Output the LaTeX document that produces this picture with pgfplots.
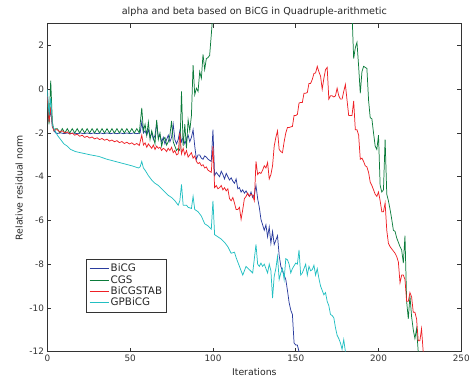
\documentclass[border=0pt]{standalone}
\usepackage{pgfplots}
\pgfplotsset{compat=1.18}
\usepackage{fontspec}
\setmainfont{DejaVu Sans}
\definecolor{cbicg}{HTML}{2A3C9E}
\definecolor{ccgs}{HTML}{0B7B3A}
\definecolor{cstab}{HTML}{EE2025}
\definecolor{cgp}{HTML}{22BFC2}
\begin{document}
\begin{tikzpicture}
\begin{axis}[
  scale only axis, width=419bp, height=332bp,
  xmin=0, xmax=250, ymin=-12, ymax=3,
  xtick={0,50,100,150,200,250},
  ytick={-12,-10,-8,-6,-4,-2,0,2},
  tick align=inside, major tick length=4bp,
  /pgf/number format/assume math mode=true,
  tick label style={font=\fontsize{9}{10}\selectfont, text=black!80},
  label style={font=\fontsize{9.5}{10.5}\selectfont, text=black!85},
  title style={font=\fontsize{9.8}{10}\selectfont, text=black!85, yshift=-2bp},
  title={alpha and beta based on BiCG in Quadruple-arithmetic},
  xlabel={Iterations}, ylabel={Relative residual norm},
  axis line style={black!80, line width=0.9pt},
  every tick/.style={black!80, line width=0.6pt},
  legend style={at={(0.093,0.283)}, anchor=north west, draw=black!80, line width=0.9pt,
    font=\fontsize{10.5}{11}\selectfont, text=black!85, row sep=-1.5pt, inner sep=3pt,
    nodes={inner sep=1.8pt}},
  legend cell align=left,
  legend image code/.code={\draw[#1, line width=0.9pt] (0bp,0bp) -- (19bp,0bp);},
  clip=true,
]
% BiCG
\addplot[cbicg, line width=0.75pt] coordinates {
(0,-0.3)(1,-1.4)(2,-1.0)(3,-1.7)(4,-1.9)(5,-2.0)(6,-2.02)(8,-1.99)(10,-2.03)(12,-2.0)(14,-2.03)(16,-2.0)(18,-2.03)(20,-2.0)(22,-2.03)(24,-2.0)(26,-2.03)(28,-2.0)(30,-2.03)(32,-2.0)(34,-2.03)(36,-2.0)(38,-2.03)(40,-2.0)(42,-2.03)(44,-2.0)(46,-2.03)(48,-2.0)(50,-2.03)(52,-2.0)(54,-2.03)(56,-2.0)
(57,-1.5)(58,-2.0)(59,-1.9)(60,-2.1)(61,-1.85)(62,-2.2)(63,-2.0)(64,-2.3)(65,-2.1)(66,-1.55)(67,-2.2)(68,-2.1)(69,-2.4)(70,-2.2)(71,-2.5)(72,-2.3)(73,-2.1)(74,-2.4)(75,-2.2)(76,-1.6)(77,-2.3)(78,-2.5)(79,-2.3)(80,-1.9)(81,-2.4)(82,-2.2)(83,-2.5)(84,-2.3)(85,-2.1)(86,-2.4)(87,-2.2)(88,-1.85)(89,-2.6)
(90,-3.2)(91,-3.0)(92,-3.0)(93,-3.15)(94,-3.2)(95,-3.05)(96,-3.1)(97,-3.2)(98,-3.25)(99,-3.3)(100,-1.85)
(101,-3.95)(102,-3.8)(103,-3.9)(104,-4.0)(105,-3.75)(106,-3.9)(107,-4.1)(108,-3.85)(109,-4.0)(110,-4.15)(111,-4.05)(112,-4.2)(113,-4.3)(114,-4.1)(115,-4.55)(116,-4.5)(117,-4.7)(118,-4.6)(119,-4.75)(120,-4.65)(121,-4.8)(122,-4.9)(123,-4.7)(124,-4.95)(125,-4.8)(126,-4.4)
(127,-5.0)(128,-5.4)(129,-5.95)(130,-6.2)(131,-6.45)(132,-6.2)(133,-6.75)(134,-6.3)(135,-7.05)(136,-6.5)(137,-7.1)(138,-6.9)(139,-6.7)(140,-7.6)(141,-8.1)(142,-8.3)(143,-8.5)(144,-8.7)(145,-9.2)(146,-9.75)(147,-10.1)(148,-10.3)(149,-11.6)(150,-11.7)(151,-11.7)(152,-12.0)
};
\addlegendentry{BiCG}
% CGS
\addplot[ccgs, line width=0.75pt] coordinates {
(0,-0.5)(1,-1.6)(2,0.4)(3,-1.5)(4,-1.9)(5,-1.8)(6,-1.8)(7.5,-2.0)(9,-1.8)(10.5,-2.0)(12,-1.8)(13.5,-2.0)(15,-1.8)(16.5,-2.0)(18,-1.8)(19.5,-2.0)(21,-1.8)(22.5,-2.0)(24,-1.8)(25.5,-2.0)(27,-1.8)(28.5,-2.0)(30,-1.8)(31.5,-2.0)(33,-1.8)(34.5,-2.0)(36,-1.8)(37.5,-2.0)(39,-1.8)(40.5,-2.0)(42,-1.8)(43.5,-2.0)(45,-1.8)(46.5,-2.0)(48,-1.8)(49.5,-2.0)(51,-1.8)(52.5,-2.0)(54,-1.8)(55.5,-2.0)
(57,-0.85)(58,-1.9)(59,-1.6)(60,-2.1)(61,-1.5)(62,-2.3)(63,-1.9)(64,-2.2)(65,-2.5)(66,-1.4)(67,-2.3)(68,-2.0)(69,-2.6)(70,-2.3)(71,-2.2)(72,-2.55)(73,-2.4)(74,-2.1)(75,-1.45)(76,-2.4)(77,-2.6)(78,-2.8)(79,-2.7)(80,-2.8)(81,-0.1)(82,-2.6)(83,-1.6)(84,-2.7)(85,-1.4)(86,-1.9)(87,-1.2)
(88,1.1)(89,-0.25)(90,0.05)(91,-0.1)(92,0.8)(93,0.5)(94,1.6)(95,0.9)(96,1.4)(97,1.45)(98,1.55)(99,2.5)(100,3.5)(101,6)(183,6)
(184,3.5)(185,1.4)(186,1.9)(187,2.15)(188,1.05)(189,-0.18)(190,0.8)(191,1.05)(192,1.0)(193,0.95)(194,-0.5)(195,-1.3)(196,-1.35)(197,-2.0)(198,-2.6)(199,-2.75)(200,-2.1)(201,-4.4)(202,-4.7)(203,-4.6)(204,-2.3)(205,-4.8)(206,-5.1)(207,-5.5)(208,-5.95)(209,-6.45)(210,-6.5)(211,-6.8)(212,-7.0)(213,-7.2)(214,-7.35)(215,-7.95)(216,-6.7)(217,-9.7)(218,-10.5)(219,-9.45)(220,-10.4)(221,-11.0)(222,-11.4)(223,-10.95)(224,-12.0)
};
\addlegendentry{CGS}
% BiCGSTAB
\addplot[cstab, line width=0.75pt] coordinates {
(0,-0.3)(1,-1.5)(2,-0.8)(3,-1.7)(4,-1.9)(5,-1.85)(6,-1.85)(7.5,-1.95)(9,-1.9)(10.5,-2.0)(12,-1.95)(13.5,-2.05)(15,-2.0)(16.5,-2.1)(18,-2.05)(19.5,-2.15)(21,-2.1)(22.5,-2.2)(24,-2.15)(25.5,-2.23)(27,-2.18)(28.5,-2.27)(30,-2.22)(31.5,-2.3)(33,-2.25)(34.5,-2.33)(36,-2.28)(37.5,-2.37)(39,-2.32)(40.5,-2.4)(42,-2.35)(43.5,-2.44)(45,-2.39)(46.5,-2.48)(48,-2.42)(49.5,-2.5)(51,-2.45)(52.5,-2.54)(54,-2.48)(55.5,-2.57)
(57,-2.1)(58,-2.55)(59,-2.45)(60,-2.65)(61,-2.5)(62,-2.6)(63,-2.7)(64,-2.55)(65,-2.75)(66,-2.6)(67,-2.7)(68,-2.65)(69,-2.8)(70,-2.7)(71,-2.75)(72,-2.85)(73,-2.7)(74,-2.8)(75,-2.65)(76,-2.9)(77,-2.8)(78,-3.0)(79,-2.95)(80,-2.0)(81,-2.95)(82,-2.7)(83,-3.0)(84,-2.8)(85,-3.1)(86,-3.0)(87,-2.9)(88,-3.15)(89,-3.05)(90,-3.3)(91,-3.4)(92,-3.35)(93,-3.5)(94,-3.45)(95,-3.6)(96,-3.55)(97,-3.7)(98,-3.75)(99,-3.8)(100,-2.6)
(101,-4.5)(102,-4.4)(103,-4.55)(104,-4.5)(105,-4.4)(106,-4.6)(107,-4.5)(108,-4.65)(109,-4.55)(110,-5.0)(111,-5.1)(112,-4.95)(113,-5.2)(114,-5.5)(115,-5.5)(116,-5.4)(117,-5.95)(118,-5.5)(119,-5.0)(120,-4.9)(121,-4.75)(122,-4.9)(123,-4.8)(124,-4.85)(125,-5.1)
(126,-3.3)(127,-3.9)(128,-3.8)(129,-3.85)(130,-3.7)(131,-3.5)(132,-3.6)(133,-3.35)(134,-4.1)(135,-3.9)(136,-3.5)(137,-2.6)(138,-2.2)(139,-1.9)(140,-2.75)(141,-2.85)(142,-2.9)(143,-2.4)(144,-2.0)(145,-1.75)(146,-1.75)(147,-1.72)(148,-1.7)(149,-1.2)(150,-1.2)(151,-1.15)(152,-0.63)(153,-0.6)(154,-0.6)(155,-0.18)(156,-0.18)(157,-0.15)(158,0.27)(159,0.27)(160,0.45)(161,0.72)(162,0.75)(163,1.05)(164,0.8)(165,0.6)(166,0.0)(167,0.5)(168,0.9)(169,1.0)
(170,-0.45)(171,-0.3)(172,-0.3)(173,-0.35)(174,-0.3)(175,0.05)(176,-0.3)(177,-0.45)(178,-0.45)(179,-0.1)(180,0.22)(181,-0.5)(182,-1.2)(183,-1.2)(184,-1.2)(185,-0.53)(186,-1.85)(187,-1.85)(188,-2.1)(189,-3.2)(190,-3.15)(191,-3.3)(192,-3.5)(193,-3.55)(194,-3.8)(195,-4.25)(196,-4.4)(197,-4.6)(198,-4.8)(199,-4.9)(200,-4.7)(201,-5.1)(202,-5.6)(203,-5.6)(204,-5.2)(205,-6.45)(206,-7.05)(207,-7.2)(208,-7.3)(209,-7.4)(210,-7.5)(211,-7.65)(212,-7.9)(213,-8.85)(214,-8.5)(215,-8.5)(216,-8.7)(217,-9.7)(218,-9.7)(219,-9.3)(220,-9.5)(221,-10.2)(222,-10.2)(223,-10.5)(224,-11.5)(225,-11.5)(226,-10.95)(227,-12.0)
};
\addlegendentry{BiCGSTAB}
% GPBiCG
\addplot[cgp, line width=0.75pt] coordinates {
(0,0)(1,-1.2)(2,-0.4)(3,-1.65)(4,-1.8)(5,-1.95)(6,-2.1)(8,-2.3)(10,-2.5)(12,-2.6)(14,-2.75)(17,-2.85)(20,-2.9)(23,-2.95)(26,-3.0)(31,-3.07)(36,-3.2)(41,-3.3)(46,-3.4)(51,-3.5)(55,-3.6)(56,-3.55)(57,-3.3)(58,-3.6)(59,-3.7)(61,-3.95)(63,-4.15)(65,-4.3)(67,-4.4)(69,-4.55)(71,-4.7)(73,-4.85)(75,-4.95)(77,-5.1)(79,-5.3)(80,-5.1)(81,-4.35)(82,-5.3)(84,-5.3)(85,-5.4)(87,-5.45)(88,-4.9)(89,-5.5)(91,-5.6)(93,-5.8)(95,-6.15)(97,-6.25)(99,-6.4)(100,-5.1)
(101,-6.65)(103,-6.75)(105,-6.85)(107,-7.0)(109,-7.2)(111,-7.5)(113,-7.45)(114,-7.7)(116,-8.1)(118,-8.5)(120,-8.1)(122,-8.25)(124,-8.4)(126,-7.1)(127,-8.0)(128,-8.1)(129,-7.95)(130,-8.1)(131,-8.0)(133,-8.4)(134,-8.0)(135,-8.3)(136,-9.55)(137,-8.55)(138,-8.2)(139,-7.65)(140,-8.7)(141,-8.4)(142,-8.2)(143,-8.7)(144,-7.75)(145,-7.8)(146,-8.0)(147,-8.4)(148,-8.2)(150,-7.95)(151,-8.0)(152,-7.35)(153,-8.5)(154,-8.4)(155,-8.2)(156,-8.0)(157,-8.5)(158,-8.1)(159,-8.3)(160,-8.25)(161,-8.05)(162,-8.5)(163,-8.2)(164,-8.65)(165,-9.0)(166,-9.2)(167,-9.4)(168,-9.3)(169,-9.7)(170,-9.9)(171,-10.3)(172,-10.35)(173,-10.45)(174,-10.9)(175,-11.25)(176,-11.4)(177,-11.6)(178,-11.9)(179,-11.45)(180,-12.0)
};
\addlegendentry{GPBiCG}
\end{axis}
\path[use as bounding box] ([xshift=-48bp,yshift=-31bp]current axis.south west) rectangle ([xshift=6bp,yshift=24bp]current axis.north east);
\end{tikzpicture}
\end{document}
